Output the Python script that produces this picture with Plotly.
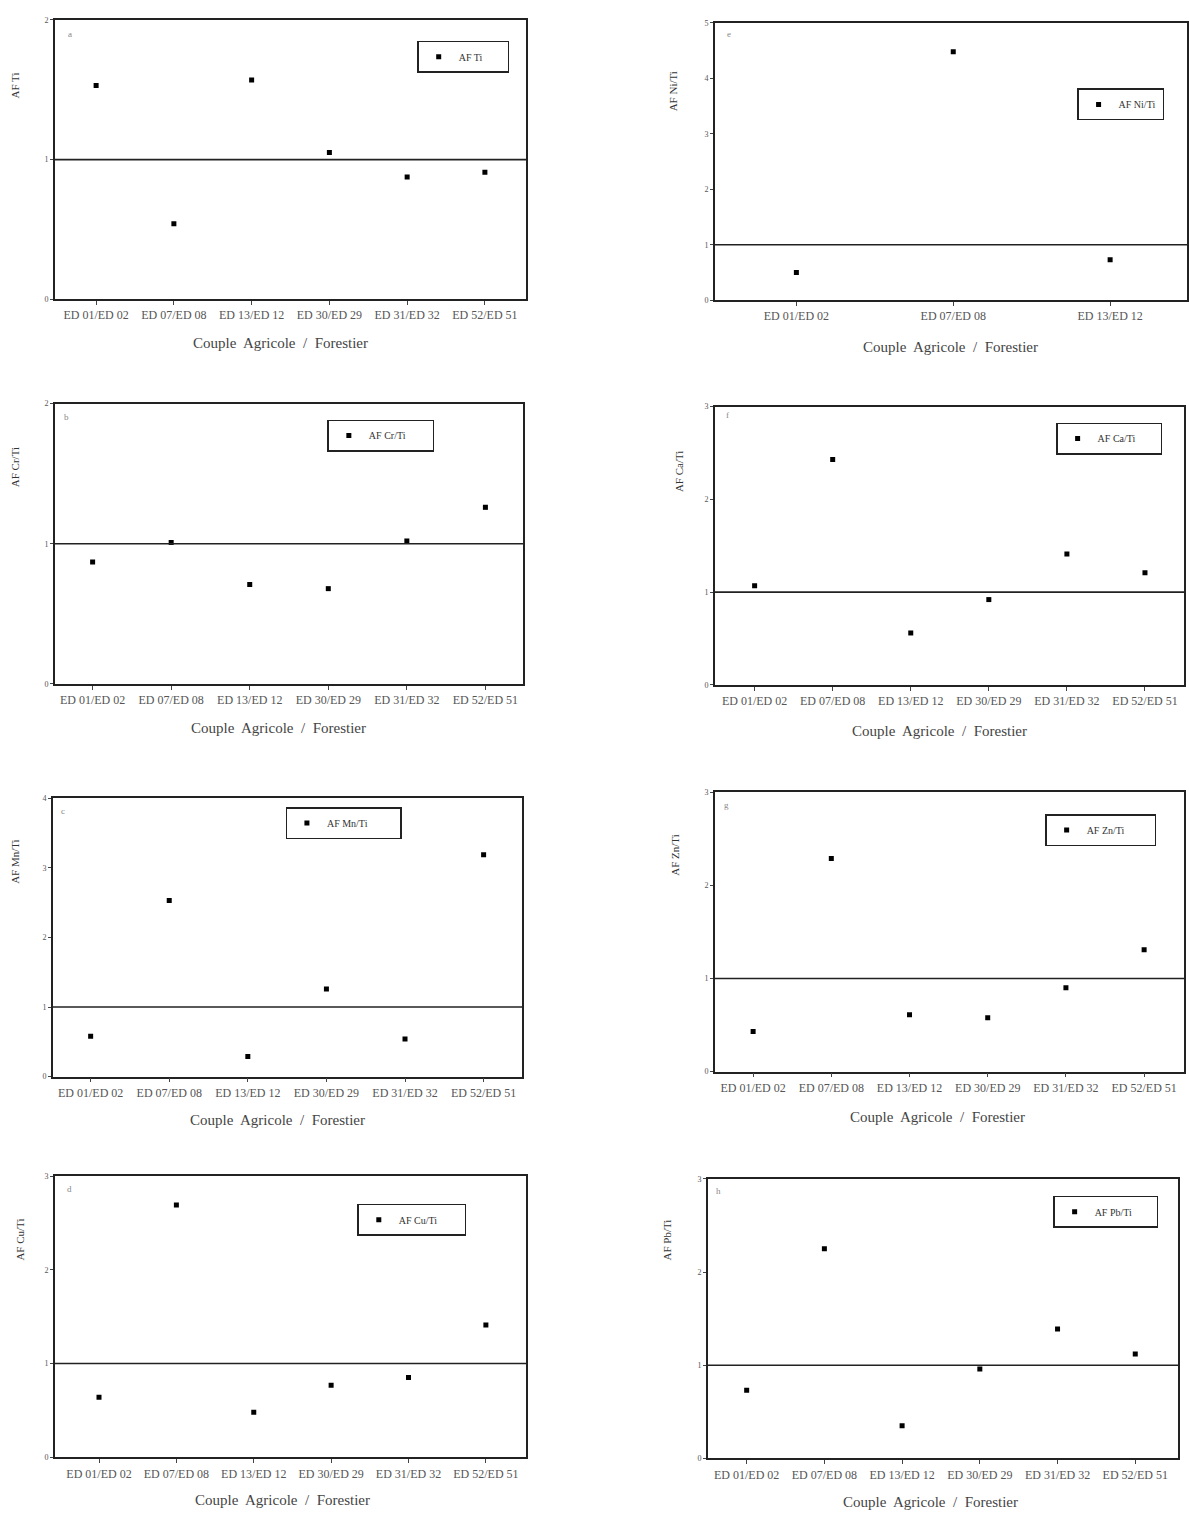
import plotly.graph_objects as go

W, H = 1189, 1519

categories = ["ED 01/ED 02", "ED 07/ED 08", "ED 13/ED 12", "ED 30/ED 29", "ED 31/ED 32", "ED 52/ED 51"]
categories_ni = ["ED 01/ED 02", "ED 07/ED 08", "ED 13/ED 12"]

af_ti = [1.53, 0.54, 1.57, 1.05, 0.875, 0.91]
af_ni = [0.50, 4.48, 0.73]
af_cr = [0.87, 1.01, 0.71, 0.68, 1.02, 1.26]
af_ca = [1.07, 2.43, 0.56, 0.92, 1.41, 1.21]
af_mn = [0.58, 2.53, 0.29, 1.26, 0.54, 3.19]
af_zn = [0.43, 2.29, 0.61, 0.58, 0.90, 1.31]
af_cu = [0.64, 2.69, 0.48, 0.77, 0.85, 1.41]
af_pb = [0.73, 2.25, 0.35, 0.96, 1.39, 1.12]

panels = [
    dict(letter="a", name="AF Ti", cats=categories, vals=af_ti, ymax=2,
         box=(55, 527, 16, 297), xr=(-0.53, 5.53), yt=(15, 82), xt=(281, 341), lg=(418, 37, 8), lt=(70, 30)),
    dict(letter="e", name="AF Ni/Ti", cats=categories_ni, vals=af_ni, ymax=5,
         box=(716, 1189, 19, 298), xr=(-0.52, 2.49), yt=(675, 88), xt=(952, 345), lg=(1079, 85, 1), lt=(730, 30)),
    dict(letter="b", name="AF Cr/Ti", cats=categories, vals=af_cr, ymax=2,
         box=(55, 524, 402, 684), xr=(-0.48, 5.48), yt=(15, 466), xt=(279, 728), lg=(328, 418, 9), lt=(67, 415)),
    dict(letter="f", name="AF Ca/Ti", cats=categories, vals=af_ca, ymax=3,
         box=(716, 1186, 405, 685), xr=(-0.51, 5.5), yt=(680, 470), xt=(941, 731), lg=(1058, 421, 8), lt=(729, 413)),
    dict(letter="c", name="AF Mn/Ti", cats=categories, vals=af_mn, ymax=4,
         box=(53, 523, 799, 1079), xr=(-0.48, 5.49), yt=(15, 862), xt=(278, 1123), lg=(286, 808, 11), lt=(63, 812)),
    dict(letter="g", name="AF Zn/Ti", cats=categories, vals=af_zn, ymax=3,
         box=(716, 1186, 793, 1074), xr=(-0.49, 5.51), yt=(676, 856), xt=(939, 1120), lg=(1047, 815, 10), lt=(728, 806)),
    dict(letter="d", name="AF Cu/Ti", cats=categories, vals=af_cu, ymax=3,
         box=(55, 527, 1179, 1462), xr=(-0.57, 5.52), yt=(20, 1243), xt=(283, 1505), lg=(358, 1207, 9), lt=(70, 1192)),
    dict(letter="h", name="AF Pb/Ti", cats=categories, vals=af_pb, ymax=3,
         box=(709, 1180, 1182, 1463), xr=(-0.5, 5.55), yt=(668, 1243), xt=(932, 1507), lg=(1055, 1199, 8), lt=(720, 1194)),
]

SERIF = "Liberation Serif, Times New Roman, serif"

fig = go.Figure()
layout = dict(width=W, height=H, margin=dict(l=0, r=0, t=0, b=0),
              paper_bgcolor="white", plot_bgcolor="white", showlegend=True,
              font=dict(family=SERIF, color="#222"))
annotations = []
shapes = []

for i, p in enumerate(panels):
    n = i + 1
    xs = "x" if n == 1 else f"x{n}"
    ys = "y" if n == 1 else f"y{n}"
    xa = "xaxis" if n == 1 else f"xaxis{n}"
    ya = "yaxis" if n == 1 else f"yaxis{n}"
    lgname = "legend" if n == 1 else f"legend{n}"
    l, r, t, b = p["box"]
    lx, ly, pad = p["lg"]
    fig.add_trace(go.Scatter(
        x=p["cats"], y=p["vals"], mode="markers", name=p["name"] + "\u00a0" * pad,
        marker=dict(symbol="square", size=5, color="black"),
        xaxis=xs, yaxis=ys, legend=lgname, showlegend=True))
    layout[xa] = dict(domain=[l / W, r / W], anchor=ys, type="category",
                      categoryorder="array", categoryarray=p["cats"],
                      range=list(p["xr"]), showline=True, mirror=True,
                      linecolor="#222", linewidth=1.6, ticks="outside",
                      ticklen=4, tickcolor="#444", showgrid=False, zeroline=False,
                      tickfont=dict(size=12, family=SERIF, color="#555"))
    layout[ya] = dict(domain=[1 - b / H, 1 - t / H], anchor=xs,
                      range=[0, p["ymax"]], dtick=1, showline=True, mirror=True,
                      linecolor="#222", linewidth=1.6, ticks="outside",
                      ticklen=3, tickcolor="#444", showgrid=False, zeroline=False,
                      tickfont=dict(size=8, family=SERIF, color="#555"))
    shapes.append(dict(type="line", xref=f"{xs} domain", yref=ys, x0=0, x1=1,
                       y0=1, y1=1, line=dict(color="#222", width=1.6)))
    layout[lgname] = dict(x=lx / W, y=1 - ly / H, xanchor="left", yanchor="top",
                          xref="paper", yref="paper",
                          bgcolor="white", bordercolor="#222", borderwidth=1.4,
                          font=dict(size=10, family=SERIF, color="#333"),
                          itemwidth=30, tracegroupgap=0)
    annotations.append(dict(text=p["name"], x=p["yt"][0] / W, y=1 - p["yt"][1] / H,
                            xref="paper", yref="paper", textangle=-90, showarrow=False,
                            xanchor="center", yanchor="middle",
                            font=dict(size=11, family=SERIF, color="#333")))
    annotations.append(dict(text="Couple  Agricole  /  Forestier", x=p["xt"][0] / W,
                            y=1 - p["xt"][1] / H, xref="paper", yref="paper",
                            showarrow=False, xanchor="center", yanchor="middle",
                            font=dict(size=15, family=SERIF, color="#444")))
    annotations.append(dict(text=p["letter"], x=p["lt"][0] / W, y=1 - p["lt"][1] / H,
                            xref="paper", yref="paper", showarrow=False,
                            xanchor="center", yanchor="middle",
                            font=dict(size=9, family=SERIF, color="#888")))

layout["annotations"] = annotations
layout["shapes"] = shapes
fig.update_layout(**layout)
fig.write_html("out.html", config={"displayModeBar": False},
               post_script="document.body.style.margin='0';document.body.style.overflow='hidden';")
